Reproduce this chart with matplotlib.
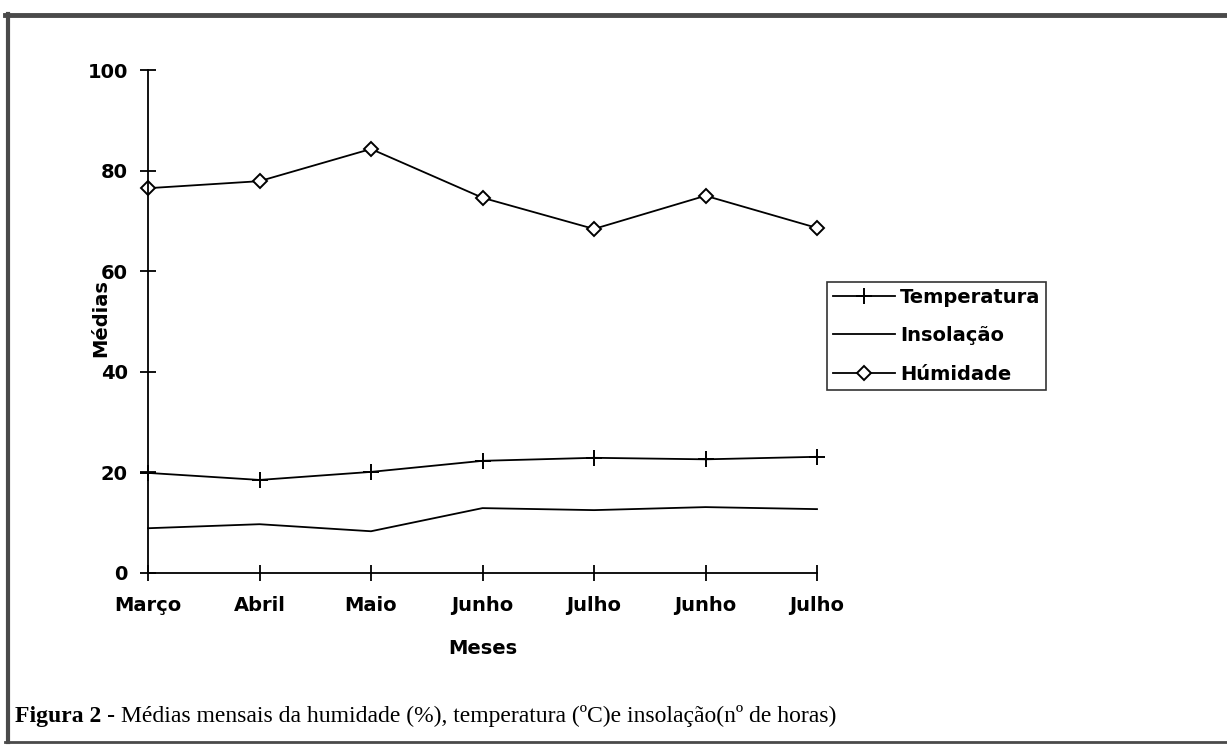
"""
Médias mensais - humidade, temperatura e insolação
Recreates the scanned Figura 2 chart
"""

import matplotlib
matplotlib.use('Agg')
import matplotlib.pyplot as plt
from matplotlib.lines import Line2D

# Data
meses = ['Março', 'Abril', 'Maio', 'Junho', 'Julho', 'Junho', 'Julho']
temperatura = [19.9, 18.5, 20.1, 22.3, 22.9, 22.6, 23.1]
insolacao = [8.9, 9.7, 8.3, 12.9, 12.5, 13.1, 12.7]
humidade = [76.5, 77.9, 84.3, 74.6, 68.4, 75.0, 68.6]
y_ticks = [0, 20, 40, 60, 80, 100]

W, H = 1227, 745
fig = plt.figure(figsize=(W / 100, H / 100), dpi=100)
ax = fig.add_axes([148 / W, 1 - 573 / H, (817 - 148) / W, (573 - 70) / H])

sans = 'DejaVu Sans'
serif = 'Liberation Serif'

x = list(range(len(meses)))

ax.plot(x, insolacao, color='black', linewidth=1.3, label='Insolação', clip_on=False)
ax.plot(x, temperatura, color='black', linewidth=1.3, marker='+', markersize=12,
        markeredgewidth=1.4, label='Temperatura', clip_on=False)
ax.plot(x, humidade, color='black', linewidth=1.3, marker='D', markersize=7,
        markerfacecolor='white', markeredgewidth=1.4, label='Húmidade', clip_on=False)

ax.set_xlim(0, len(meses) - 1)
ax.set_ylim(0, 100)
ax.set_xticks(x)
ax.set_xticklabels(meses, fontfamily=sans, fontweight='bold', fontsize=14)
ax.set_yticks(y_ticks)
ax.set_yticklabels([str(v) for v in y_ticks], fontfamily=sans, fontweight='bold', fontsize=14)
ax.tick_params(axis='both', direction='inout', length=11, width=1.3, color='black')
ax.tick_params(axis='x', pad=11)
ax.tick_params(axis='y', pad=9)

for side in ['top', 'right']:
    ax.spines[side].set_visible(False)
for side in ['left', 'bottom']:
    ax.spines[side].set_linewidth(1.3)

ax.set_xlabel('Meses', fontfamily=sans, fontweight='bold', fontsize=14)
ax.set_ylabel('Médias', fontfamily=sans, fontweight='bold', fontsize=14)
ax.xaxis.set_label_coords(0.5, -(648 - 573) / (573 - 70), transform=ax.transAxes)
ax.yaxis.label.set_va('center')
ax.xaxis.label.set_va('center')
ax.yaxis.set_label_coords(-(148 - 101) / (817 - 148), (573 - 318) / (573 - 70))

# Legend, ordered as in the original
handles = [
    Line2D([], [], color='black', linewidth=1.3, marker='+', markersize=12, markeredgewidth=1.4),
    Line2D([], [], color='black', linewidth=1.3),
    Line2D([], [], color='black', linewidth=1.3, marker='D', markersize=7,
           markerfacecolor='white', markeredgewidth=1.4),
]
leg = fig.legend(handles, ['Temperatura', 'Insolação', 'Húmidade'],
                 loc='upper left', bbox_to_anchor=(827 / W, 1 - 282 / H),
                 prop={'family': sans, 'weight': 'bold', 'size': 14},
                 frameon=True, fancybox=False, shadow=False,
                 handlelength=3.2, handletextpad=0.25, labelspacing=1.0,
                 borderpad=0.3, borderaxespad=0)
leg.get_frame().set_edgecolor('black')
leg.get_frame().set_linewidth(1.2)

# Caption
cap_y = 1 - 722 / H
t1 = fig.text(15 / W, cap_y, 'Figura 2 - ', fontfamily=serif, fontweight='bold',
              fontsize=17, va='baseline', ha='left')
fig.canvas.draw()
bb = t1.get_window_extent()
fig.text(bb.x1 / W, cap_y,
         'Médias mensais da humidade (%), temperatura (ºC)e insolação(nº de horas)',
         fontfamily=serif, fontsize=17, va='baseline', ha='left')

# Scanned page frame
frame_color = '#4a4a4a'
fig.add_artist(Line2D([5 / W, 1], [1 - 15 / H, 1 - 15 / H], color=frame_color, linewidth=3.5))
fig.add_artist(Line2D([8 / W, 8 / W], [1 - 14 / H, 1 - 742 / H], color=frame_color, linewidth=3))
fig.add_artist(Line2D([5 / W, 1], [1 - 742 / H, 1 - 742 / H], color=frame_color, linewidth=2))

plt.savefig('out.png', dpi=100)
